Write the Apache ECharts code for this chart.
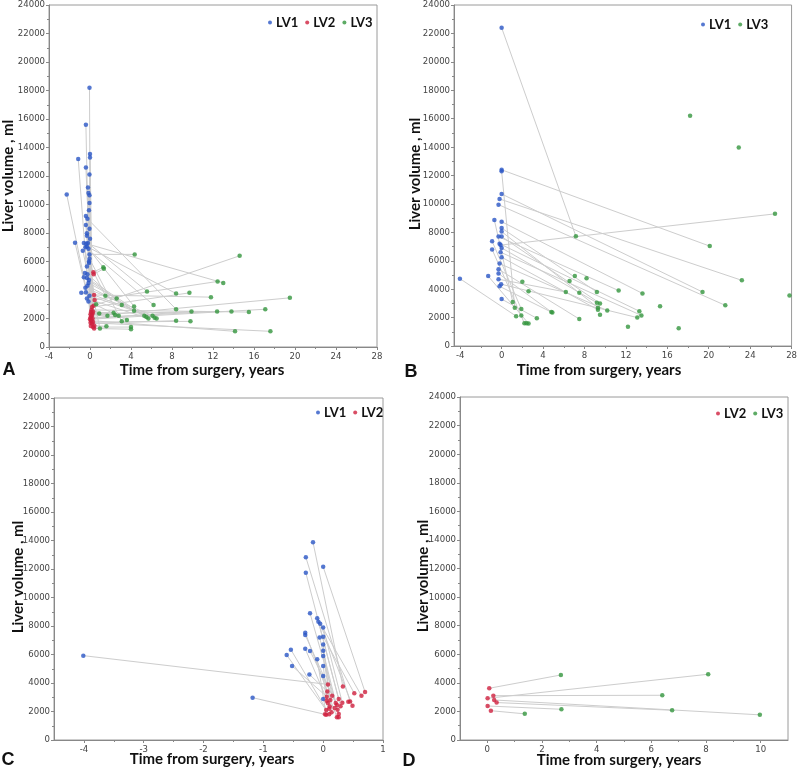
<!DOCTYPE html>
<html><head><meta charset="utf-8">
<script src="https://cdn.jsdelivr.net/npm/echarts@6/dist/echarts.min.js"></script>
<style>html,body{margin:0;padding:0;background:#fff}#c{width:800px;height:769px}</style>
</head><body><div id="c"></div><script>
// Each trajectory: list of [time (years), liver volume (ml), level 1|2|3]
const panelA = [
  [[-0.05,18200,1],[0.05,2050,2],[12.4,2500,3]],
  [[-0.4,15600,1],[0.0,1950,2],[17.1,2650,3]],
  [[-1.15,13200,1],[0.05,1700,2],[17.6,1100,3]],
  [[0,13550,1],[0.25,2350,2],[13.8,2500,3]],
  [[0,13300,1],[0.1,1850,2],[14.15,1100,3]],
  [[-0.4,12600,1],[0.25,2000,2],[9.9,2500,3]],
  [[-0.05,12100,1],[0.12,2150,2],[19.5,3450,3]],
  [[-2.27,10700,1],[0.3,1750,2],[9.8,1800,3]],
  [[-0.15,10800,1],[0.15,2600,2],[15.5,2450,3]],
  [[-0.05,10650,1],[0.2,2800,2],[9.7,3800,3]],
  [[-0.05,10100,1],[0.2,1650,2],[8.4,1850,3]],
  [[-0.4,9200,1],[0.3,1400,2],[4.0,1400,3]],
  [[-0.25,9000,1],[8.4,2650,3]],
  [[-0.4,8560,1],[0.4,1300,2],[4.0,1250,3]],
  [[-0.3,7980,1],[0.35,2900,2],[14.6,6400,3]],
  [[-0.3,7800,1],[0.4,3650,2],[11.8,3500,3]],
  [[-1.46,7320,1],[0.42,1500,2],[1.6,1450,3]],
  [[-0.6,7300,1],[0.45,3300,2],[12.45,4600,3]],
  [[-0.35,7250,1],[13.0,4500,3]],
  [[-0.2,7300,1],[5.56,3900,3]],
  [[-0.3,7050,1],[8.4,3750,3]],
  [[-0.45,7000,1],[6.2,2950,3]],
  [[-0.7,6750,1],[0.97,1300,3]],
  [[-0.15,6900,1],[4.3,2850,3]],
  [[-0.05,6500,1],[4.36,6500,3]],
  [[-0.3,5650,1],[0.33,5250,2],[1.3,5600,3]],
  [[-0.5,5200,1],[0.36,5100,2],[1.35,5500,3]],
  [[-0.25,5100,1],[3.1,2950,3]],
  [[-0.6,4900,1],[4.3,2550,3]],
  [[-0.3,4850,1],[5.3,2200,3]],
  [[-0.25,4300,1],[5.5,2100,3]],
  [[-0.45,4150,1],[6.1,2200,3]],
  [[-0.85,3800,1],[6.3,2050,3]],
  [[-0.4,3850,1],[6.5,2000,3]],
  [[-0.3,3400,1],[5.7,2000,3]],
  [[-0.15,3200,1],[3.6,1900,3]],
  [[-0.05,6200,1],[3.1,1800,3]],
  [[-0.1,5900,1],[1.5,3600,3]],
  [[-0.15,4500,1],[2.6,3400,3]],
  [[-0.05,3600,1],[0.6,3000,3]],
  [[-0.1,9600,1],[0.1,2450,2],[2.3,2400,3]],
  [[-0.05,8300,1],[0.2,2250,2],[0.9,2350,3]],
  [[-0.2,11200,1],[0.05,2300,2],[2.45,2250,3]],
  [[0,7600,1],[0.3,2500,2],[2.8,2200,3]],
  [[-0.1,4700,1],[0.15,1900,2],[1.7,2200,3]],
  [[-0.1,6000,1],[0.08,1480,2]]
];
const panelB = [
  [[0,22400,1],[7.17,7730,3]],
  [[0,12400,1],[20.1,7030,3]],
  [[0,12300,1],[1.27,2700,3]],
  [[0,10700,1],[19.4,3800,3]],
  [[-0.2,10350,1],[23.2,4620,3]],
  [[-0.3,9950,1],[21.6,2860,3]],
  [[-0.7,8860,1],[1.07,3100,3]],
  [[0,8750,1],[13.6,3700,3]],
  [[0,8300,1],[9.2,3800,3]],
  [[0,8050,1],[9.3,2700,3]],
  [[-0.3,7700,1],[11.3,3900,3]],
  [[0,7700,1],[9.5,3000,3]],
  [[-0.92,7380,1],[1.9,2600,3]],
  [[-0.2,7200,1],[13.3,2450,3]],
  [[-0.1,7100,1],[26.4,9300,3]],
  [[0,6900,1],[9.2,3050,3]],
  [[-0.92,6800,1],[2.2,1600,3]],
  [[-0.1,6600,1],[13.5,2150,3]],
  [[0,6250,1],[9.3,2550,3]],
  [[-0.2,5800,1],[10.2,2500,3]],
  [[-0.3,5400,1],[7.5,1900,3]],
  [[-0.3,5100,1],[4.8,2400,3]],
  [[-1.3,4920,1],[2.6,1580,3]],
  [[-0.3,4700,1],[6.2,3800,3]],
  [[-4.03,4740,1],[1.4,2100,3]],
  [[-0.05,4350,1],[13.1,2000,3]],
  [[-0.2,4200,1],[4.9,2350,3]],
  [[0,3300,1],[3.4,1950,3]],
  [[18.2,16200,3]],[[22.9,13970,3]],[[27.8,3560,3]],[[7.07,4920,3]],
  [[8.2,4760,3]],[[6.56,4570,3]],[[2.0,4520,3]],[[7.5,3750,3]],
  [[2.6,3850,3]],[[9.5,2200,3]],[[15.3,2800,3]],[[1.9,2150,3]],
  [[2.4,1600,3]],[[12.2,1350,3]],[[17.1,1250,3]]
];
const panelC = [
  [[-4.01,5920,1],[0.08,3900,2]],
  [[-1.18,2970,1],[0.03,1800,2]],
  [[-0.17,13880,1],[0.33,3750,2]],
  [[-0.29,12830,1],[0.45,2700,2]],
  [[-0.29,11730,1],[0.26,2880,2]],
  [[0,12150,1],[0.70,3370,2]],
  [[-0.22,8900,1],[0.26,1830,2]],
  [[-0.1,8550,1],[0.64,3110,2]],
  [[-0.08,8300,1],[0.29,2370,2]],
  [[-0.05,8150,1],[0.49,2410,2]],
  [[0,7900,1],[0.32,2620,2]],
  [[-0.3,7530,1],[0.23,1590,2]],
  [[-0.3,7370,1],[0.21,2600,2]],
  [[-0.06,7200,1],[0.24,2130,2]],
  [[0,7250,1],[0.52,3280,2]],
  [[0,6700,1],[0.14,1950,2]],
  [[-0.54,6340,1],[0.1,1800,2]],
  [[-0.3,6400,1],[0.11,2350,2]],
  [[-0.22,6250,1],[0.23,2450,2]],
  [[0,6270,1],[0.15,3100,2]],
  [[-0.61,5960,1],[0.05,2100,2]],
  [[0,5900,1],[0.12,2800,2]],
  [[-0.1,5660,1],[0.05,1780,2]],
  [[-0.52,5200,1],[0.06,3040,2]],
  [[0,5200,1],[0.08,2600,2]],
  [[-0.23,4600,1],[0.07,3400,2]],
  [[0,4500,1],[0.06,2750,2]],
  [[0,2880,1],[0.1,2200,2]],
  [[0.42,2690,2]],[[0.26,1600,2]],[[0.19,2250,2]]
];
const panelD = [
  [[0.07,3620,2],[2.69,4550,3]],
  [[0.01,2920,2],[8.08,4600,3]],
  [[0.22,3100,2],[6.4,3130,3]],
  [[0.25,2800,2],[9.97,1760,3]],
  [[0.34,2620,2],[6.76,2080,3]],
  [[0.01,2380,2],[2.71,2150,3]],
  [[0.13,2050,2],[1.37,1830,3]]
];
const xMajorA = [-4,0,4,8,12,16,20,24,28], xMinorA = [-2,2,6,10,14,18,22,26];
const xMajorB = [-4,0,4,8,12,16,20,24,28], xMinorB = [-2,2,6,10,14,18,22,26];
const xMajorC = [-4,-3,-2,-1,0,1], xMinorC = [-3.5,-2.5,-1.5,-0.5,0.5];
const xMajorD = [0,2,4,6,8,10], xMinorD = [1,3,5,7,9];
const levelNames = {1:'LV1',2:'LV2',3:'LV3'};
const levelColors = {1:'#2a56c6',2:'#d0213f',3:'#34963e'};

const panels = [
  {traj:panelA, grid:{left:49,top:5,width:328,height:342}, xMin:-4, xMax:28, maj:xMajorA, min:xMinorA, legend:['LV1','LV2','LV3'], lg:{left:268,top:16}},
  {traj:panelB, grid:{left:454,top:5,width:340,height:341}, xMin:-4.6, xMax:28, maj:xMajorB, min:xMinorB, legend:['LV1','LV3'], lg:{left:701,top:18}},
  {traj:panelC, grid:{left:54,top:398,width:329,height:342}, xMin:-4.5, xMax:1, maj:xMajorC, min:xMinorC, legend:['LV1','LV2'], lg:{left:316,top:406}},
  {traj:panelD, grid:{left:460,top:397,width:328,height:343}, xMin:-1, xMax:11, maj:xMajorD, min:xMinorD, legend:['LV2','LV3'], lg:{left:716,top:407}}
];

const tickFont = {color:'#444', fontSize:9.5, fontFamily:'"Liberation Sans Narrow","Arial Narrow","DejaVu Sans Condensed",Arial,sans-serif'};
const grids=[], xAxes=[], yAxes=[], series=[], legends=[];
panels.forEach((p,gi)=>{
  grids.push(Object.assign({show:true, borderColor:'#9a9a9a', borderWidth:1, containLabel:false}, p.grid));
  const xi = xAxes.length;
  xAxes.push({type:'value', gridIndex:gi, position:'bottom', min:p.xMin, max:p.xMax,
    axisLine:{onZero:false, lineStyle:{color:'#888'}}, splitLine:{show:false},
    axisTick:{customValues:p.maj, length:3, lineStyle:{color:'#888'}},
    axisLabel:Object.assign({customValues:p.maj, margin:5, formatter:v=>String(v)}, tickFont)});
  xAxes.push({type:'value', gridIndex:gi, position:'bottom', min:p.xMin, max:p.xMax,
    axisLine:{show:false, onZero:false}, splitLine:{show:false}, axisLabel:{show:false},
    axisTick:{customValues:p.min, length:2, lineStyle:{color:'#888'}}});
  const yi = yAxes.length;
  yAxes.push({type:'value', gridIndex:gi, position:'left', min:0, max:24000, interval:2000,
    axisLine:{show:true, onZero:false, lineStyle:{color:'#888'}}, splitLine:{show:false},
    axisTick:{show:true, length:3, lineStyle:{color:'#888'}},
    minorTick:{show:true, splitNumber:2, length:2, lineStyle:{color:'#888'}},
    axisLabel:Object.assign({margin:4, formatter:v=>String(v)}, tickFont)});
  p.traj.forEach(t=>{
    if(t.length>1) series.push({type:'line', xAxisIndex:xi, yAxisIndex:yi, silent:true, showSymbol:false, symbol:'none',
      data:t.map(q=>[q[0],q[1]]), lineStyle:{color:'#cdcdcd', width:1}, z:1, animation:false});
  });
  [1,2,3].forEach(l=>{
    const pts=[]; p.traj.forEach(t=>t.forEach(q=>{ if(q[2]===l) pts.push([q[0],q[1]]); }));
    if(pts.length) series.push({type:'scatter', name:levelNames[l], xAxisIndex:xi, yAxisIndex:yi, data:pts,
      symbolSize:4.5, itemStyle:{color:levelColors[l]}, z:3, animation:false});
  });
  legends.push(Object.assign({data:p.legend, orient:'horizontal', icon:'circle', itemWidth:4, itemHeight:4, itemGap:7,
    padding:0, selectedMode:false, textStyle:{fontSize:13, fontWeight:'bold', color:'#111', fontFamily:'Lato,"Open Sans",sans-serif', padding:[0,0,0,-1]}}, p.lg));
});

const titleFont = 'Lato,"Open Sans",sans-serif';
function txt(x,y,s,size,rot){ return {type:'text', x:x, y:y, rotation:rot||0, style:{text:s, fontSize:size, fontWeight:'bold', fill:'#111', fontFamily:titleFont, align:'center', verticalAlign:'middle'}}; }
function letter(x,y,s){ return {type:'text', x:x, y:y, style:{text:s, fontSize:18, fontWeight:'bold', fill:'#111', fontFamily:'"Liberation Sans",Arial,sans-serif', align:'center', verticalAlign:'middle'}}; }
const graphics = [
  txt(202,370,'Time from surgery, years',15), txt(599,370,'Time from surgery, years',15),
  txt(212,759,'Time from surgery, years',15), txt(619,760,'Time from surgery, years',15),
  txt(8,176,'Liver volume , ml',15,Math.PI/2), txt(415,174,'Liver volume , ml',15,Math.PI/2),
  txt(18,577,'Liver volume , ml',15,Math.PI/2), txt(423,576,'Liver volume , ml',15,Math.PI/2),
  letter(9,370,'A'), letter(411,372,'B'), letter(8,760,'C'), letter(409,761,'D')
];

const chart = echarts.init(document.getElementById('c'), null, {renderer:'canvas'});
chart.setOption({animation:false, backgroundColor:'#fff', grid:grids, xAxis:xAxes, yAxis:yAxes, legend:legends, series:series, graphic:graphics});
</script></body></html>
